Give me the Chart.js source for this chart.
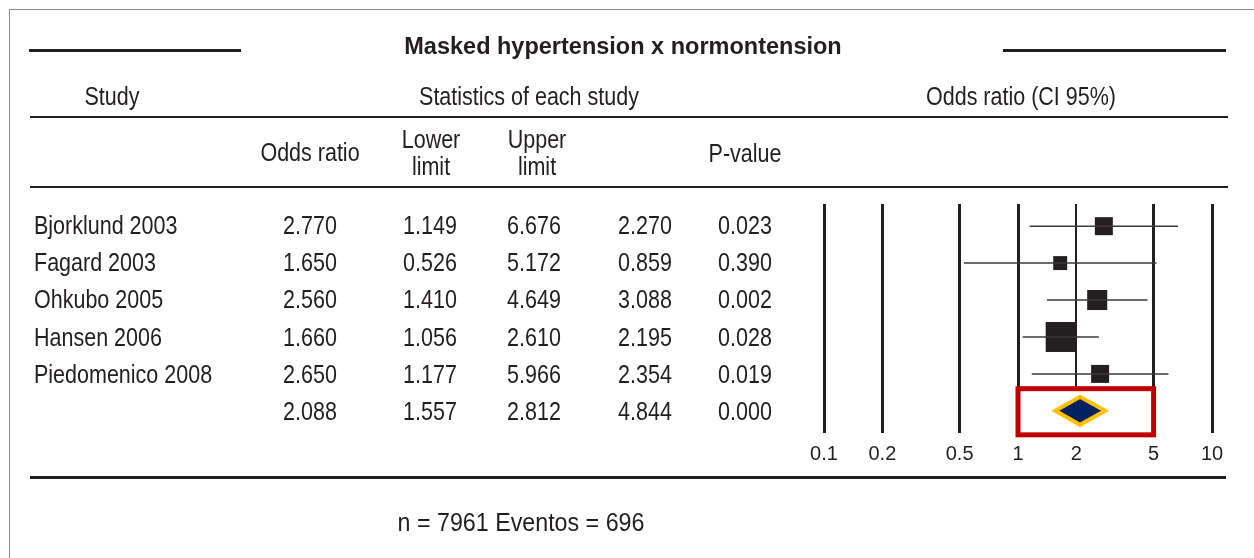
<!DOCTYPE html>
<html>
<head>
<meta charset="utf-8">
<script src="https://cdn.jsdelivr.net/npm/chart.js@4"></script>
<style>
  html, body { margin: 0; padding: 0; background: #fff; }
  body { width: 1254px; height: 558px; position: relative; overflow: hidden;
         font-family: 'Liberation Sans', Arial, sans-serif; color: #231f20; }
  #frame { position: absolute; left: 9px; top: 9px; right: -2px; bottom: -2px;
           border-top: 1px solid #8a8a8a; border-left: 1px solid #8a8a8a; }
  canvas { position: absolute; left: 0; top: 0; }
  /* narrow look: Liberation Sans squeezed horizontally */
  .t { position: absolute; font-size: 25px; white-space: nowrap; line-height: 1;
       transform-origin: 50% 50%; transform: translate(-50%, -50%) scaleX(0.86); }
  .l { transform-origin: 0 50%; transform: translate(0, -50%) scaleX(0.86); }
  .title { font-weight: bold; font-size: 23.5px; transform: translate(-50%, -50%); }
  .foot { transform: translate(-50%, -50%) scaleX(0.93); }
  .rule { position: absolute; background: #231f20; }
</style>
</head>
<body>
<div id="frame"></div>
<canvas id="forest" width="1254" height="558"></canvas>
<div id="table"></div>
<script>
// study rows (last row = pooled estimate)
const studies    = ['Bjorklund 2003', 'Fagard 2003', 'Ohkubo 2005', 'Hansen 2006', 'Piedomenico 2008', ''];
const oddsRatio  = [2.770, 1.650, 2.560, 1.660, 2.650, 2.088];
const lowerLimit = [1.149, 0.526, 1.410, 1.056, 1.177, 1.557];
const upperLimit = [6.676, 5.172, 4.649, 2.610, 5.966, 2.812];
const zValue     = [2.270, 0.859, 3.088, 2.195, 2.354, 4.844];
const pValue     = [0.023, 0.390, 0.002, 0.028, 0.019, 0.000];
// relative weight (%) read from square areas
const weights    = [15.1, 9.1, 18.7, 42.0, 15.1];
const tickValues = [0.1, 0.2, 0.5, 1, 2, 5, 10];

const title = 'Masked hypertension x normontension';
const footer = 'n = 7961 Eventos = 696';

// ---- table text ----
const table = document.getElementById('table');
function txt(s, x, y, cls) {
  const d = document.createElement('div');
  d.className = 't' + (cls ? ' ' + cls : '');
  d.textContent = s;
  d.style.left = x + 'px';
  d.style.top = y + 'px';
  table.appendChild(d);
}
function rule(x1, x2, y, h) {
  const d = document.createElement('div');
  d.className = 'rule';
  d.style.left = x1 + 'px';
  d.style.width = (x2 - x1) + 'px';
  d.style.top = (y - h / 2) + 'px';
  d.style.height = h + 'px';
  table.appendChild(d);
}

rule(29, 241, 50, 3);
rule(1003, 1226, 50, 3);
txt(title, 623, 47, 'title');
txt('Study', 112, 96);
txt('Statistics of each study', 529, 96);
txt('Odds ratio (CI 95%)', 1021, 96);
rule(30, 1228, 117, 2);
txt('Odds ratio', 310, 152);
txt('Lower', 431, 139);
txt('limit', 431, 166);
txt('Upper', 537, 139);
txt('limit', 537, 166);
txt('P-value', 745, 153);
rule(30, 1228, 187, 2.5);

const colX = [310, 430, 534, 645, 745];
studies.forEach((s, i) => {
  const y = 225 + i * 37.2;
  if (s) txt(s, 34, y, 'l');
  [oddsRatio[i], lowerLimit[i], upperLimit[i], zValue[i], pValue[i]].forEach((v, j) => {
    txt(v.toFixed(3), colX[j], y);
  });
});
rule(30, 1226, 477, 3);
txt(footer, 521, 522, 'foot');

// ---- forest plot ----
const nStudy = 5;
const ciSets = [];
for (let i = 0; i < nStudy; i++) {
  ciSets.push({
    type: 'scatter',
    data: [{ x: lowerLimit[i], y: i }, { x: upperLimit[i], y: i }],
    showLine: true,
    borderColor: '#3a3a3a',
    borderWidth: 1.5,
    pointRadius: 0
  });
}

const pooledPlugin = {
  id: 'pooled',
  afterDatasetsDraw(chart) {
    const { ctx, scales: { x, y } } = chart;
    const i = nStudy;
    // highlight box around pooled estimate
    ctx.save();
    const bx1 = x.getPixelForValue(1), bx2 = x.getPixelForValue(5);
    const by1 = y.getPixelForValue(i - 0.6), by2 = y.getPixelForValue(i + 0.65);
    ctx.fillStyle = '#fff';
    ctx.fillRect(bx1, by1, bx2 - bx1, by2 - by1);
    ctx.strokeStyle = '#c00000';
    ctx.lineWidth = 5;
    ctx.strokeRect(bx1, by1, bx2 - bx1, by2 - by1);
    // diamond
    const cx = x.getPixelForValue(oddsRatio[i]);
    const lx = x.getPixelForValue(lowerLimit[i]);
    const ux = x.getPixelForValue(upperLimit[i]);
    const cy = y.getPixelForValue(i);
    const h = 14;
    ctx.beginPath();
    ctx.moveTo(lx, cy);
    ctx.lineTo(cx, cy - h);
    ctx.lineTo(ux, cy);
    ctx.lineTo(cx, cy + h);
    ctx.closePath();
    ctx.fillStyle = '#002060';
    ctx.fill();
    ctx.strokeStyle = '#ffc000';
    ctx.lineWidth = 4;
    ctx.lineJoin = 'miter';
    ctx.stroke();
    ctx.restore();
  }
};

new Chart(document.getElementById('forest'), {
  type: 'scatter',
  data: {
    datasets: [
      ...ciSets,
      {
        type: 'scatter',
        data: oddsRatio.slice(0, nStudy).map((v, i) => ({ x: v, y: i })),
        pointStyle: 'rect',
        pointRadius: weights.map(w => Math.sqrt(w) * 4.63 / Math.SQRT2),
        pointHoverRadius: weights.map(w => Math.sqrt(w) * 4.63 / Math.SQRT2),
        backgroundColor: '#231f20',
        borderWidth: 0
      }
    ]
  },
  options: {
    responsive: false,
    animation: false,
    devicePixelRatio: 1,
    layout: { padding: { left: 824, right: 42, top: 204, bottom: 85 } },
    plugins: { legend: { display: false }, tooltip: { enabled: false } },
    scales: {
      x: {
        type: 'logarithmic',
        min: 0.1,
        max: 10,
        afterBuildTicks: s => { s.ticks = tickValues.map(v => ({ value: v })); },
        afterFit: s => { s.height = 40; },
        border: { display: false },
        grid: {
          drawTicks: false,
          color: '#231f20',
          lineWidth: c => (c.tick && c.tick.value === 2 ? 2 : 3)
        },
        ticks: {
          autoSkip: false,
          maxRotation: 0,
          padding: 9,
          color: '#231f20',
          font: { family: "'Liberation Sans', Arial, sans-serif", size: 20 },
          callback: v => String(v)
        }
      },
      y: {
        type: 'linear',
        min: -0.6,
        max: 5.6,
        reverse: true,
        display: false
      }
    }
  },
  plugins: [pooledPlugin]
});
</script>
</body>
</html>
